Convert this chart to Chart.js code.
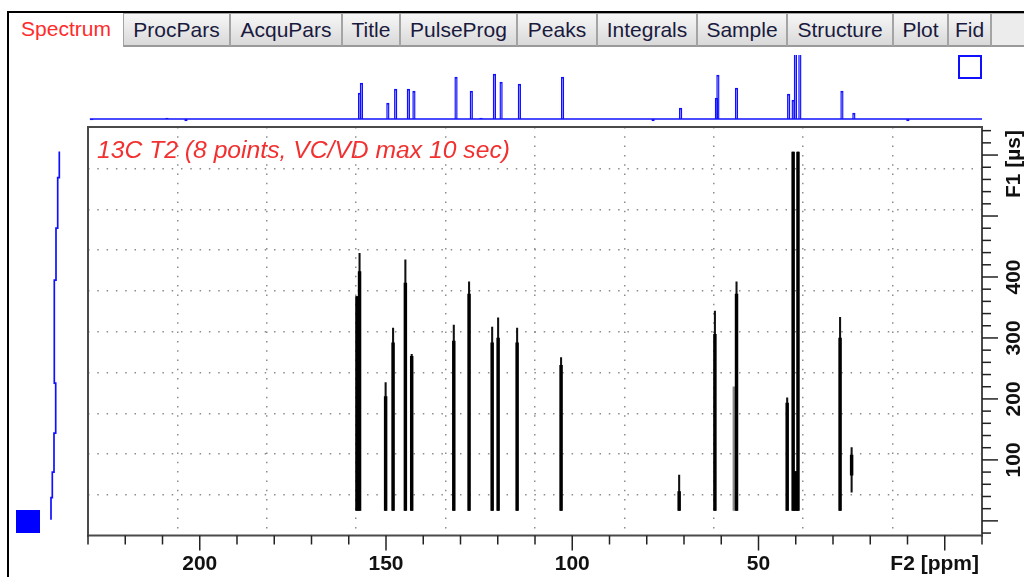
<!DOCTYPE html>
<html><head><meta charset="utf-8">
<script src="https://cdn.jsdelivr.net/npm/chart.js@4.4.1/dist/chart.umd.min.js"></script>
<style>
html,body{margin:0;padding:0;background:#fff;width:1024px;height:577px;overflow:hidden;font-family:"Liberation Sans",Arial,sans-serif;}
canvas{position:absolute;left:0;top:0;}
#win{position:absolute;left:7px;top:11px;width:1017px;height:566px;border-left:2px solid #000;border-top:2px solid #000;box-sizing:border-box;}
#tabs{position:absolute;left:9px;top:13px;height:34px;width:1015px;display:flex;}
.tab{box-sizing:border-box;height:34px;font-size:21px;line-height:31px;text-align:center;color:#1a1a3e;background:linear-gradient(#f7f7f7,#d9d9d9);border:1px solid #a4a4a4;border-bottom:2px solid #9a9a9a;white-space:nowrap;overflow:hidden;}
.tab.sel{background:#fff;border:none;color:#ff2b2b;}
.tab.fill{flex:1;background:#ececec;border-right:none;}
#title{position:absolute;left:97px;top:136px;font-size:24.7px;line-height:28px;font-style:italic;color:#f23030;white-space:nowrap;z-index:5;}
#sq1{position:absolute;left:16px;top:510px;width:24px;height:23px;background:#0000ff;}
#sq2{position:absolute;left:958px;top:55px;width:20px;height:20px;border:2px solid #1010ff;}
</style>
</head><body>
<div id="win"></div>
<div id="tabs">
  <div class="tab sel" style="width:114px">Spectrum</div>
  <div class="tab" style="width:107px">ProcPars</div>
  <div class="tab" style="width:112px">AcquPars</div>
  <div class="tab" style="width:58px">Title</div>
  <div class="tab" style="width:117px">PulseProg</div>
  <div class="tab" style="width:80px">Peaks</div>
  <div class="tab" style="width:100px">Integrals</div>
  <div class="tab" style="width:90px">Sample</div>
  <div class="tab" style="width:106px">Structure</div>
  <div class="tab" style="width:55px">Plot</div>
  <div class="tab" style="width:43px">Fid</div>
  <div class="tab fill"></div>
</div>
<div id="title">13C T2 (8 points, VC/VD max 10 sec)</div>
<div id="sq1"></div>
<div id="sq2"></div>
<canvas id="proj" width="1024" height="577"></canvas>
<canvas id="f1proj" width="1024" height="577"></canvas>
<canvas id="main" width="1024" height="577"></canvas>
<script>
// ---------- data ----------
// axis ranges
const xMin = -10, xMax = 230;          // F2 [ppm] (reversed)
const yMin = -24, yMax = 646;          // F1 [µs]
const xTickLabels = [200, 150, 100, 50];
const yTickLabels = [100, 200, 300, 400];
const xAxisTitle = 'F2 [ppm]';
const yAxisTitle = 'F1 [µs]';
const xTickStep = 10, xMajorStep = 50;
const yTickStep = 20, yMajorStep = 100;
// dotted grid positions
const xGrid = [206, 182, 158, 134, 110, 86, 62, 38, 14];
const yGrid = [43, 110, 176, 243, 310, 377, 444, 511, 577];

// 2D peaks (F2 ppm, F1 range)
const barPpm      = [157.8, 157.1, 150.1, 148.1, 144.8, 143.1, 131.8, 127.7, 121.5, 119.9, 114.8, 103.0, 71.3, 61.7, 55.9, 42.3, 40.7, 40.05, 39.4, 28.1, 25.0];
const barLow      = [17, 17, 17, 17, 17, 17, 17, 17, 17, 17, 17, 17, 17, 17, 17, 17, 17, 17, 17, 17, 47];
const barThickLow = [17, 17, 17, 17, 17, 17, 17, 17, 17, 17, 17, 17, 17, 17, 17, 17, 17, 17, 17, 17, 75];
const barThick    = [368, 409, 204, 292, 390, 270, 295, 372, 292, 300, 292, 255, 48, 306, 372, 193, 605, 81, 605, 300, 108];
const barHigh     = [368, 439, 227, 316, 428, 273, 321, 392, 318, 333, 316, 268, 75, 344, 392, 202, 605, 81, 605, 334, 120];
const shadedPpm = [56.6];
const shadedTop = [220];

// F2 projection (top)
const projPpm = [229.0, 208.8, 203.7, 157.1, 156.6, 149.5, 147.4, 144.0, 142.5, 131.2, 127.1, 124.5, 120.9, 119.1, 114.2, 102.6, 78.3, 70.9, 61.3, 60.9, 55.9, 41.9, 40.7, 40.1, 38.9, 27.6, 24.4, 9.9];
const projInt = [-1, 1, -2, 26, 36, 16, 30, 30, 28, 42, 28, 1, 45, 37, 35, 42, -2, 11, 21, 44, 31, 25, 19, 70, 70, 28, 6, -2];

// F1 projection (left), step boundaries in µs and intensities
const f1Bounds = [606, 563, 480, 395, 226, 144, 80, 38, 2];
const f1Int    = [19.3, 17.7, 16, 14.3, 15.7, 14, 12.3, 11];

// ---------- charts ----------
const BLUE = '#1010ff';
const AREA = {left: 88, right: 1024 - 982, top: 127, bottom: 577 - 535.5};

// top projection
new Chart(document.getElementById('proj'), {
  type: 'bar',
  data: {
    datasets: [
      {type: 'line', data: [{x: xMax - 0.5, y: 0}, {x: xMin, y: 0}], borderColor: BLUE, borderWidth: 1.6, pointRadius: 0, order: 2},
      {type: 'bar', data: projPpm.map((p, i) => ({x: p, y: projInt[i]})), backgroundColor: 'rgba(0,0,0,0)',
       borderColor: BLUE, borderWidth: 1.2, borderSkipped: 'start', barThickness: 2.6, grouped: false, order: 1}
    ]
  },
  options: {
    responsive: false, animation: false, events: [],
    layout: {padding: {left: 88, right: 1024 - 982, top: 55, bottom: 577 - 123}},
    plugins: {legend: {display: false}, tooltip: {enabled: false}},
    scales: {
      x: {type: 'linear', min: xMin, max: xMax, reverse: true, offset: false, display: false, grid: {offset: false}},
      y: {type: 'linear', min: -4, max: 64, display: false}
    }
  }
});

// left projection
const f1Points = [];
f1Int.forEach((v, i) => { f1Points.push({x: v, y: f1Bounds[i]}); f1Points.push({x: v, y: f1Bounds[i + 1]}); });
new Chart(document.getElementById('f1proj'), {
  type: 'scatter',
  data: {datasets: [{data: f1Points, showLine: true, borderColor: BLUE, borderWidth: 1.7, pointRadius: 0}]},
  options: {
    responsive: false, animation: false, events: [],
    layout: {padding: {left: 40, right: 1024 - 70, top: AREA.top, bottom: AREA.bottom}},
    plugins: {legend: {display: false}, tooltip: {enabled: false}},
    scales: {
      x: {type: 'linear', min: 0, max: 30, display: false},
      y: {type: 'linear', min: yMin, max: yMax, display: false}
    }
  }
});

// main 2D
const axesPlugin = {
  id: 'axesPlugin',
  afterDraw(chart) {
    const {ctx, chartArea: a, scales: {x, y}} = chart;
    ctx.save();
    // frame
    ctx.strokeStyle = '#4a4a4a'; ctx.lineWidth = 2;
    ctx.strokeRect(a.left, a.top, a.right - a.left, a.bottom - a.top);
    // ticks
    ctx.strokeStyle = '#222'; ctx.lineWidth = 1.5;
    for (let v = Math.ceil(xMin / xTickStep) * xTickStep; v <= xMax + 1e-9; v += xTickStep) {
      const px = x.getPixelForValue(v);
      const len = (Math.abs(v % xMajorStep) < 1e-9) ? 15 : 9;
      ctx.beginPath(); ctx.moveTo(px, a.bottom); ctx.lineTo(px, a.bottom + len); ctx.stroke();
    }
    for (let v = Math.ceil(yMin / yTickStep) * yTickStep; v <= yMax + 1e-9; v += yTickStep) {
      const py = y.getPixelForValue(v);
      const len = (Math.abs(v % yMajorStep) < 1e-9) ? 16 : 9;
      ctx.beginPath(); ctx.moveTo(a.right, py); ctx.lineTo(a.right + len, py); ctx.stroke();
    }
    // labels
    ctx.fillStyle = '#111';
    ctx.font = 'bold 21px "Liberation Sans", Arial, sans-serif';
    ctx.textBaseline = 'alphabetic';
    ctx.textAlign = 'center';
    xTickLabels.forEach(v => ctx.fillText(String(v), x.getPixelForValue(v), a.bottom + 34));
    ctx.textAlign = 'right';
    ctx.fillText(xAxisTitle, a.right - 3, a.bottom + 34);
    yTickLabels.forEach(v => {
      ctx.save();
      ctx.translate(a.right + 38, y.getPixelForValue(v));
      ctx.rotate(-Math.PI / 2);
      ctx.textAlign = 'center';
      ctx.fillText(String(v), 0, 0);
      ctx.restore();
    });
    ctx.save();
    ctx.translate(a.right + 38, a.top + 3);
    ctx.rotate(-Math.PI / 2);
    ctx.textAlign = 'right';
    ctx.fillText(yAxisTitle, 0, 0);
    ctx.restore();
    ctx.restore();
  }
};

new Chart(document.getElementById('main'), {
  type: 'bar',
  data: {
    datasets: [
      {data: shadedPpm.map((p, i) => ({x: p, y: [17, shadedTop[i]]})), backgroundColor: '#8a8a8a', barThickness: 2, grouped: false, order: 3},
      {data: barPpm.map((p, i) => ({x: p, y: [barLow[i], barHigh[i]]})), backgroundColor: '#111', barThickness: 1.4, grouped: false, order: 2},
      {data: barPpm.map((p, i) => ({x: p, y: [barThickLow[i], barThick[i]]})), backgroundColor: '#000', barThickness: 2.8, grouped: false, order: 1}
    ]
  },
  options: {
    responsive: false, animation: false, events: [],
    layout: {padding: AREA},
    plugins: {legend: {display: false}, tooltip: {enabled: false}},
    scales: {
      x: {type: 'linear', min: xMin, max: xMax, reverse: true, offset: false,
          afterBuildTicks: (axis) => { axis.ticks = xGrid.map(v => ({value: v})); },
          ticks: {display: false},
          grid: {offset: false, drawTicks: false, color: '#8c8c8c', lineWidth: 1.5},
          border: {display: false, dash: [1.5, 7.8]}},
      y: {type: 'linear', min: yMin, max: yMax,
          afterBuildTicks: (axis) => { axis.ticks = yGrid.map(v => ({value: v})); },
          ticks: {display: false},
          grid: {drawTicks: false, color: '#8c8c8c', lineWidth: 1.5},
          border: {display: false, dash: [1.5, 7.8]}}
    }
  },
  plugins: [axesPlugin]
});
</script>
</body></html>
